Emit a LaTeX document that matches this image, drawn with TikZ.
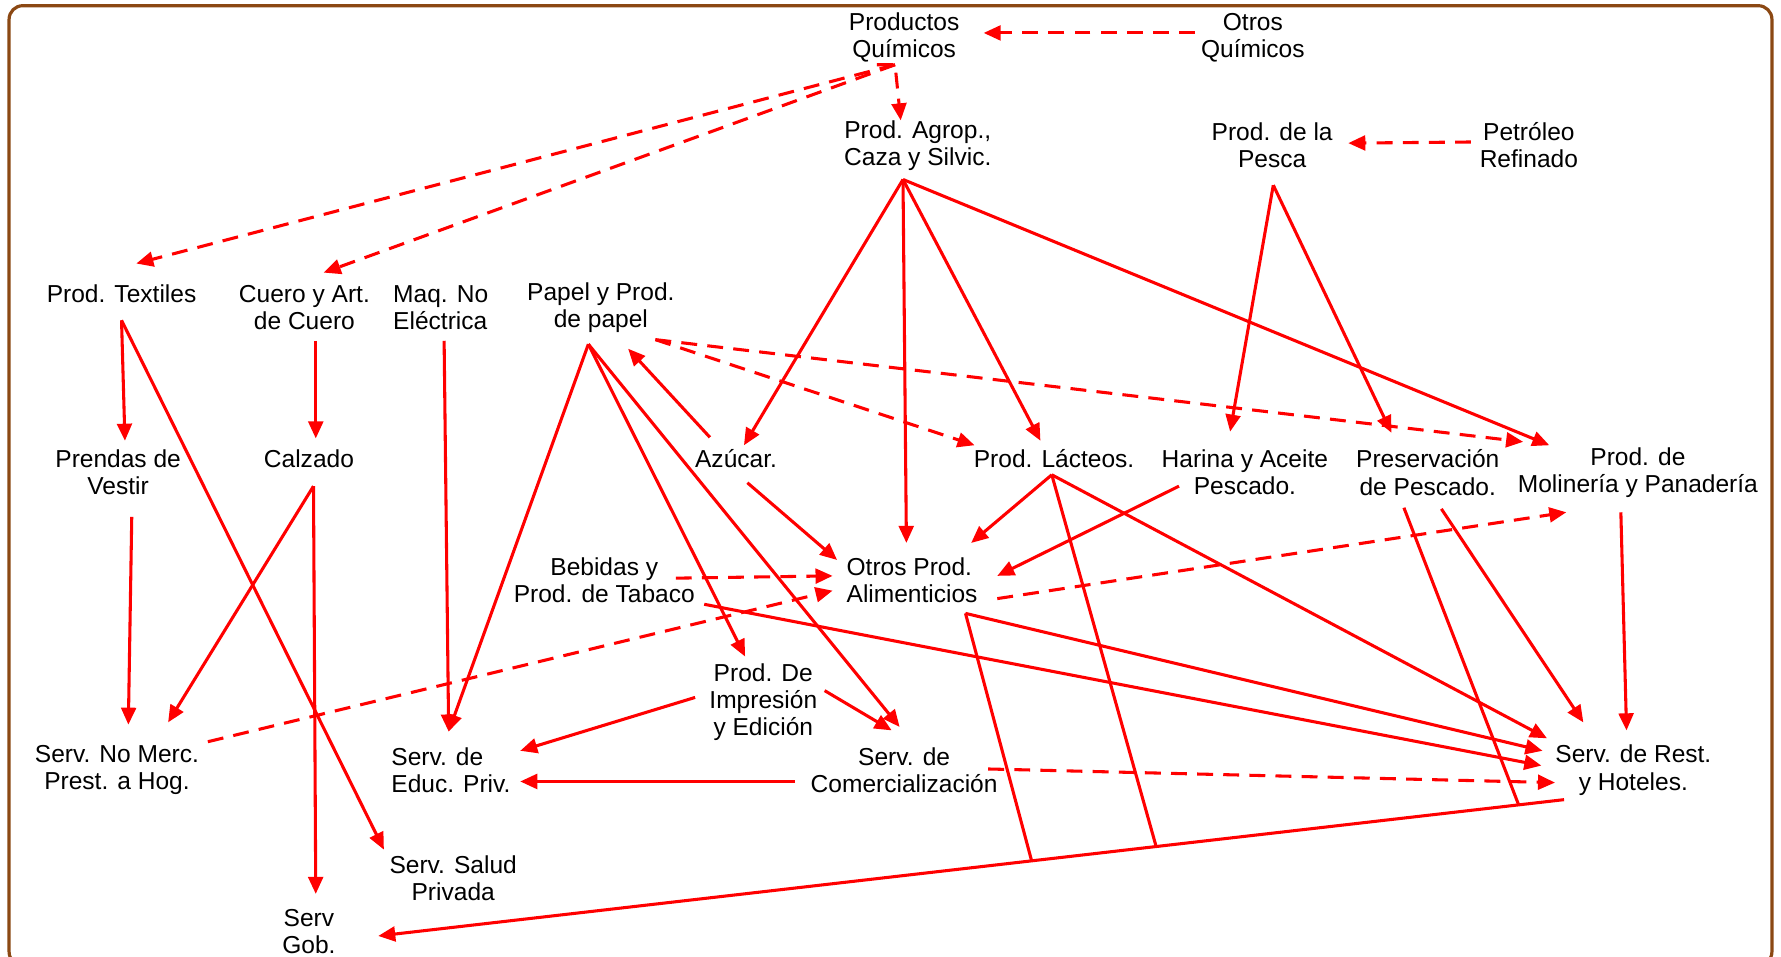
\documentclass[tikz,border=0pt]{standalone}
\usepackage{fontspec}
\setmainfont{Liberation Sans}
\usetikzlibrary{arrows.meta,calc}
\definecolor{brd}{RGB}{139,72,19}
\definecolor{ar}{RGB}{255,0,0}
\begin{document}
\begin{tikzpicture}[x=0.5pt,y=-0.5pt,
 lbl/.style={align=center,inner sep=0pt,font=\fontsize{10.8}{12}\selectfont},
 lbll/.style={lbl,align=left},
 link/.style={draw=ar,line width=1.35pt},
 conn/.style={link,-{Triangle[length=7.5pt,width=6.5pt]}},
 dconn/.style={conn,dash pattern=on 7pt off 4.5pt}]
\useasboundingbox (0,0) rectangle (1568,842);
\draw[brd,line width=1.4pt,rounded corners=6pt] (8,5) rectangle (1560,850);

% nodes
\node[lbl] (pq) at (796,33) {Productos\\Químicos};
\node[lbl] (oq) at (1103,33) {Otros\\Químicos};
\node[lbl] (agrop) at (808,128) {Prod. Agrop.,\\Caza y Silvic.};
\node[lbl] (pesca) at (1120,128) {Prod. de la\\Pesca};
\node[lbl] (petro) at (1346,128) {Petróleo\\Refinado};
\node[lbl] (textil) at (107,259) {Prod. Textiles};
\node[lbl] (cuero) at (268,271) {Cuero y Art.\\de Cuero};
\node[lbll] (maq) at (388,271) {Maq. No\\Eléctrica};
\node[lbl] (papel) at (529,271) {Papel y Prod.\\de papel};
\node[lbl] (prendas) at (104,416) {Prendas de\\Vestir};
\node[lbl] (calzado) at (272,404) {Calzado};
\node[lbl] (azucar) at (648,404) {Azúcar.};
\node[lbl] (lacteos) at (928,404) {Prod. Lácteos.};
\node[lbl] (harina) at (1096,416) {Harina y Aceite\\Pescado.};
\node[lbl] (preserv) at (1257,416) {Preservación\\de Pescado.};
\node[lbl] (molin) at (1442,416) {Prod. de\\Molinería y Panadería};
\node[lbl] (bebidas) at (532,511) {Bebidas y\\Prod. de Tabaco};
\node[lbll] (otros) at (803,511) {Otros Prod.\\Alimenticios};
\node[lbl] (impres) at (672,618) {Prod. De\\Impresión\\y Edición};
\node[lbl] (nomerc) at (103,678) {Serv. No Merc.\\Prest. a Hog.};
\node[lbll] (educ) at (397,678) {Serv. de\\Educ. Priv.};
\node[lbl] (comerc) at (796,678) {Serv. de\\Comercialización};
\node[lbl] (rest) at (1438,678) {Serv. de Rest.\\y Hoteles.};
\node[lbl] (salud) at (399,773) {Serv. Salud\\Privada};
\node[lbl] (gob) at (272,820) {Serv\\Gob.};

% ports
\coordinate (pqS) at (788,57);
\coordinate (pqS2) at (772,57);
\coordinate (pqE) at (866,29);
\coordinate (oqW) at (1052,29);
\coordinate (agropN) at (793,106);
\coordinate (agropS) at (795,158);
\coordinate (textilN) at (120,232);
\coordinate (textilS) at (107,282);
\coordinate (cueroN) at (285,240);
\coordinate (cueroS) at (278,300);
\coordinate (petroW) at (1295,125);
\coordinate (pescaE) at (1187,126);
\coordinate (pescaS) at (1121,163);
\coordinate (azucarN) at (655,392);
\coordinate (azucarNW) at (625,385);
\coordinate (azucarSE) at (658,425);
\coordinate (otrosN) at (798,478);
\coordinate (otrosNW) at (737,493);
\coordinate (otrosNE) at (855,478);
\coordinate (otrosE) at (878,507);
\coordinate (otrosE2) at (878,527);
\coordinate (otrosW) at (733,507);
\coordinate (otrosW2) at (733,520);
\coordinate (otrosS) at (850,540);
\coordinate (lacteosN) at (916,388);
\coordinate (lacteosW) at (858,392);
\coordinate (lacteosS) at (926,418);
\coordinate (molinN) at (1364,392);
\coordinate (molinNW) at (1341,389);
\coordinate (molinSW) at (1379,451);
\coordinate (molinS) at (1427,451);
\coordinate (harinaN) at (1083,380);
\coordinate (harinaW) at (1038,428);
\coordinate (preservN) at (1225,381);
\coordinate (preservS) at (1236,447);
\coordinate (preservS2) at (1269,448);
\coordinate (prendasN) at (110,388);
\coordinate (prendasS) at (116,455);
\coordinate (saludN) at (338,748);
\coordinate (calzadoN) at (278,386);
\coordinate (calzadoS) at (276,428);
\coordinate (maqS) at (391,300);
\coordinate (educN) at (395,644);
\coordinate (educE) at (458,661);
\coordinate (educE2) at (458,688);
\coordinate (papelS) at (518,303);
\coordinate (papelSE) at (577,299);
\coordinate (papelSE2) at (553,307);
\coordinate (impresN) at (656,578);
\coordinate (impresW) at (612,614);
\coordinate (impresE) at (726,608);
\coordinate (comercN) at (792,640);
\coordinate (comercN2) at (785,643);
\coordinate (comercW) at (700,688);
\coordinate (comercE) at (870,677);
\coordinate (nomercN) at (148,636);
\coordinate (nomercN2) at (113,638);
\coordinate (nomercNE) at (183,653);
\coordinate (gobN) at (278,787);
\coordinate (gobE) at (333,824);
\coordinate (bebidasE) at (595,509);
\coordinate (bebidasSE) at (620,532);
\coordinate (restNW) at (1362,650);
\coordinate (restN) at (1394,636);
\coordinate (restN2) at (1432,643);
\coordinate (restW1) at (1358,661);
\coordinate (restW2) at (1357,674);
\coordinate (restW3) at (1369,689);
\coordinate (restSW) at (1377,704);
\coordinate (tA) at ($(restSW)!0.449!(gobE)$);
\coordinate (tB) at ($(restSW)!0.344!(gobE)$);
\coordinate (tC) at ($(restSW)!0.0383!(gobE)$);

% dashed connectors
\draw[dconn] (oqW) -- (pqE);
\draw[dconn] (pqS2) -- (pqS) -- (agropN);
\draw[dconn] (pqS) -- (textilN);
\draw[dconn] (pqS) -- (cueroN);
\draw[dconn] (petroW) -- (pescaE);
\draw[dconn] (papelSE) -- (lacteosW);
\draw[dconn] (papelSE) -- (molinNW);
\draw[dconn] (bebidasE) -- (otrosW);
\draw[dconn] (nomercNE) -- (otrosW2);
\draw[dconn] (otrosE2) -- (molinSW);
\draw[dconn] (comercE) -- (restW3);

% solid connectors
\draw[conn] (agropS) -- (azucarN);
\draw[conn] (agropS) -- (otrosN);
\draw[conn] (agropS) -- (lacteosN);
\draw[conn] (agropS) -- (molinN);
\draw[conn] (pescaS) -- (harinaN);
\draw[conn] (pescaS) -- (preservN);
\draw[conn] (textilS) -- (prendasN);
\draw[conn] (textilS) -- (saludN);
\draw[conn] (cueroS) -- (calzadoN);
\draw[conn] (maqS) -- (educN);
\draw[conn] (papelS) -- (educN);
\draw[conn] (papelS) -- (impresN);
\draw[conn] (papelS) -- (comercN);
\draw[conn] (azucarNW) -- (papelSE2);
\draw[conn] (azucarSE) -- (otrosNW);
\draw[conn] (calzadoS) -- (nomercN);
\draw[conn] (calzadoS) -- (gobN);
\draw[conn] (prendasS) -- (nomercN2);
\draw[conn] (lacteosS) -- (otrosNE);
\draw[conn] (lacteosS) -- (restNW);
\draw[conn] (harinaW) -- (otrosE);
\draw[conn] (preservS2) -- (restN);
\draw[conn] (molinS) -- (restN2);
\draw[conn] (otrosS) -- (restW1);
\draw[conn] (bebidasSE) -- (restW2);
\draw[conn] (impresW) -- (educE);
\draw[conn] (impresE) -- (comercN2);
\draw[conn] (comercW) -- (educE2);
\draw[conn] (restSW) -- (gobE);
\draw[link] (otrosS) -- (tA);
\draw[link] (lacteosS) -- (tB);
\draw[link] (preservS) -- (tC);
\end{tikzpicture}
\end{document}
